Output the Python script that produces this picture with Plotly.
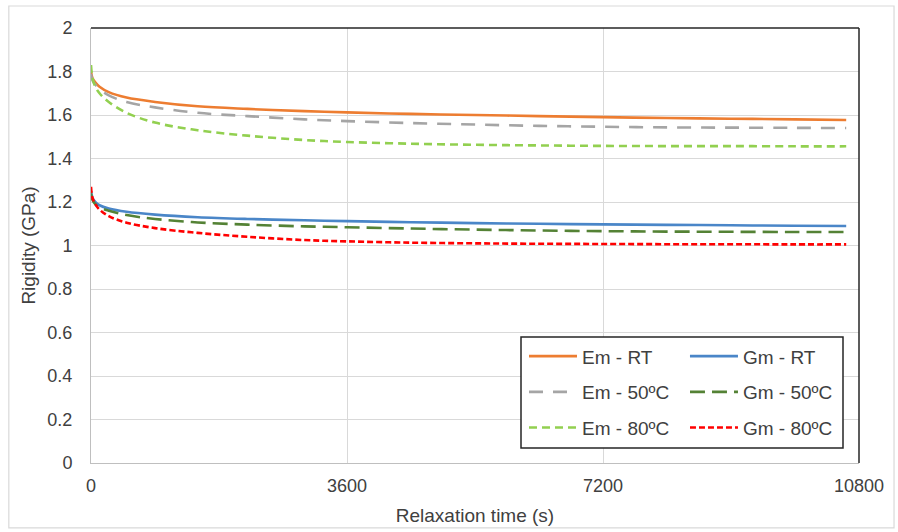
import plotly.graph_objects as go

time_s = [0, 20, 60, 120, 250, 500, 900, 1500, 2200, 3000, 3600, 4500, 5400, 6300, 7200, 8100, 9000, 9900, 10620]
em_rt = [1.80, 1.77, 1.75, 1.73, 1.705, 1.68, 1.66, 1.64, 1.628, 1.618, 1.612, 1.605, 1.60, 1.595, 1.59, 1.586, 1.583, 1.58, 1.577]
em_50 = [1.79, 1.76, 1.74, 1.72, 1.69, 1.66, 1.635, 1.61, 1.595, 1.58, 1.572, 1.563, 1.556, 1.55, 1.546, 1.543, 1.542, 1.541, 1.54]
em_80 = [1.83, 1.77, 1.73, 1.70, 1.66, 1.61, 1.565, 1.53, 1.505, 1.485, 1.476, 1.468, 1.463, 1.46, 1.458, 1.457, 1.457, 1.456, 1.456]
gm_rt = [1.25, 1.22, 1.20, 1.185, 1.17, 1.155, 1.142, 1.13, 1.122, 1.116, 1.112, 1.107, 1.103, 1.10, 1.097, 1.095, 1.093, 1.091, 1.09]
gm_50 = [1.24, 1.21, 1.19, 1.175, 1.16, 1.14, 1.122, 1.106, 1.096, 1.088, 1.084, 1.078, 1.073, 1.069, 1.066, 1.064, 1.063, 1.062, 1.062]
gm_80 = [1.27, 1.22, 1.19, 1.165, 1.135, 1.105, 1.08, 1.058, 1.04, 1.025, 1.019, 1.013, 1.01, 1.008, 1.007, 1.006, 1.006, 1.005, 1.005]

x_ticks = [0, 3600, 7200, 10800]
x_tick_labels = ["0", "3600", "7200", "10800"]
y_ticks = [0, 0.2, 0.4, 0.6, 0.8, 1, 1.2, 1.4, 1.6, 1.8, 2]
y_tick_labels = ["0", "0.2", "0.4", "0.6", "0.8", "1", "1.2", "1.4", "1.6", "1.8", "2"]

# (name, values, colour, dash, legend)
series = [
    ("Em - RT", em_rt, "#ED7D31", "solid", "legend"),
    ("Em - 50ºC", em_50, "#A5A5A5", "14px,10px", "legend"),
    ("Em - 80ºC", em_80, "#92D050", "8px,5px", "legend"),
    ("Gm - RT", gm_rt, "#4A86C8", "solid", "legend2"),
    ("Gm - 50ºC", gm_50, "#548235", "15px,7px", "legend2"),
    ("Gm - 80ºC", gm_80, "#FF0000", "6px,3px", "legend2"),
]

fig = go.Figure()
for name, vals, color, dash, leg in series:
    fig.add_trace(go.Scatter(x=time_s, y=vals, mode="lines", name=name, legend=leg,
                             legendgroup=name,
                             line=dict(color=color, width=2.6, dash=dash, shape="spline")))

font = "Liberation Sans, Arial, sans-serif"
txt = "#404040"
leg_common = dict(orientation="v", yanchor="top", xanchor="left",
                  bgcolor="rgba(0,0,0,0)", borderwidth=0,
                  font=dict(size=19, color=txt), itemwidth=48,
                  tracegroupgap=8, traceorder="grouped")
fig.update_layout(
    width=898, height=532,
    margin=dict(l=91, r=39, t=28, b=69, autoexpand=False),
    paper_bgcolor="white", plot_bgcolor="white",
    font=dict(family=font, size=18, color=txt),
    showlegend=True,
    legend=dict(x=0.5638, y=0.289, **leg_common),
    legend2=dict(x=0.7734, y=0.289, **leg_common),
    xaxis=dict(range=[0, 10800], tickvals=x_ticks, ticktext=x_tick_labels,
               showgrid=True, gridcolor="#D9D9D9", gridwidth=1, automargin=False,
               showline=True, linecolor="#BFBFBF", linewidth=1, zeroline=False,
               ticks="", ticklabelstandoff=6, tickfont=dict(size=18, color=txt),
               title=dict(text="Relaxation time (s)", font=dict(size=19, color=txt), standoff=14)),
    yaxis=dict(range=[0, 2], tickvals=y_ticks, ticktext=y_tick_labels,
               showgrid=True, gridcolor="#D9D9D9", gridwidth=1, automargin=False,
               showline=True, linecolor="#BFBFBF", linewidth=1, zeroline=False,
               ticks="", ticklabelstandoff=14, tickfont=dict(size=18, color=txt),
               title=dict(text="Rigidity (GPa)", font=dict(size=19, color=txt), standoff=6)),
)

# plot-area border (top and right, black)
fig.add_shape(type="line", xref="paper", yref="paper", x0=0, x1=1, y0=1, y1=1,
              line=dict(color="#262626", width=1.5))
fig.add_shape(type="line", xref="paper", yref="paper", x0=1, x1=1, y0=0, y1=1,
              line=dict(color="#262626", width=1.5))
# legend box
fig.add_shape(type="rect", xref="paper", yref="paper",
              x0=(521 - 91) / 768, x1=(843 - 91) / 768,
              y0=(463 - 448) / 435, y1=(463 - 337) / 435,
              line=dict(color="#262626", width=1.5), fillcolor="white", layer="above")
# chart-area light border
fig.add_shape(type="rect", xref="paper", yref="paper", x0=-0.107, x1=1.0456, y0=-0.149, y1=1.0506,
              line=dict(color="#D9D9D9", width=1.2), fillcolor="rgba(0,0,0,0)", layer="below")

fig.write_html("out.html")
